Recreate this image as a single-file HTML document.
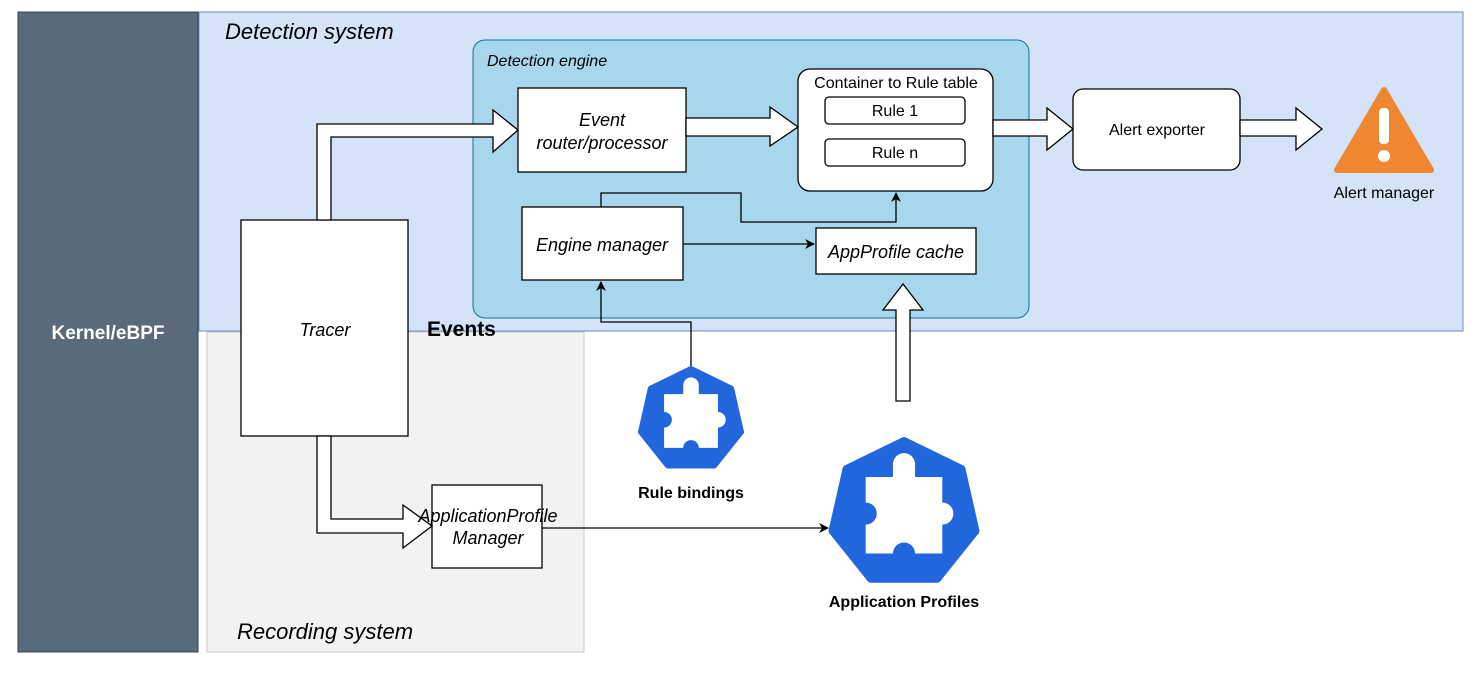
<!DOCTYPE html>
<html><head><style>body{margin:0;background:#fff}svg{display:block}text{font-family:"Liberation Sans",sans-serif}</style></head><body>
<svg width="1478" height="686" viewBox="0 0 1478 686" xmlns="http://www.w3.org/2000/svg">
<defs>
<marker id="a" markerWidth="10" markerHeight="10" refX="9" refY="5" orient="auto" markerUnits="userSpaceOnUse"><path d="M0,0 L10,5 L0,10 L3,5 z" fill="#000"/></marker>
<g id="k8s">
<path d="M0,-0.95 L0.78,-0.57 L0.97,0.27 L0.45,0.92 L-0.45,0.92 L-0.97,0.27 L-0.78,-0.57 Z" fill="#2266dd" stroke="#2266dd" stroke-width="0.1" stroke-linejoin="round"/>
<g transform="scale(1.15)">
<path d="M-0.45,-0.4 L-0.13,-0.4 L-0.13,-0.55 A0.13,0.13 0 0 1 0.13,-0.55 L0.13,-0.4 L0.45,-0.4 L0.45,-0.1 A0.13,0.13 0 0 1 0.45,0.16 L0.45,0.5 L0.13,0.5 A0.13,0.13 0 0 0 -0.13,0.5 L-0.45,0.5 L-0.45,0.16 A0.13,0.13 0 0 0 -0.45,-0.1 Z" fill="#fff"/>
</g>
</g>
</defs>
<rect x="18" y="12" width="180" height="640" fill="#596a7b" stroke="#314354"/>
<text x="108" y="339" font-size="19" font-weight="bold" fill="#fff" text-anchor="middle">Kernel/eBPF</text>
<rect x="199" y="12" width="1264" height="319" fill="#d4e3f8" stroke="#6c8ebf"/>
<text x="225" y="39" font-size="22" font-style="italic">Detection system</text>
<rect x="207" y="332" width="377" height="320" fill="#f2f2f2" stroke="#c8c8c8"/>
<text x="237" y="639" font-size="22" font-style="italic">Recording system</text>
<rect x="473" y="40" width="556" height="278" rx="12" fill="#a8d6ec" stroke="#10739e"/>
<text x="487" y="66" font-size="16" font-style="italic">Detection engine</text>
<g stroke="#000" stroke-width="1.3" fill="#fff">
<rect x="241" y="220" width="167" height="216"/>
<rect x="518" y="88" width="168" height="84"/>
<rect x="798" y="69" width="195" height="122" rx="12"/>
<rect x="825" y="97" width="140" height="27" rx="4"/>
<rect x="825" y="139" width="140" height="27" rx="4"/>
<rect x="1073" y="89" width="167" height="81" rx="10"/>
<rect x="522" y="207" width="161" height="73"/>
<rect x="816" y="228" width="160" height="46"/>
<rect x="432" y="485" width="110" height="83"/>
<path d="M317,220 L317,124 L493,124 L493,110 L518,130 L493,152 L493,137 L331,137 L331,220 Z"/>
<path d="M686,118 L770,118 L770,107 L798,127 L770,146 L770,136 L686,136 Z"/>
<path d="M993,120 L1047,120 L1047,108 L1073,129 L1047,150 L1047,136 L993,136 Z"/>
<path d="M1240,120 L1296,120 L1296,108 L1322,129 L1296,150 L1296,136 L1240,136 Z"/>
<path d="M317,436 L317,533 L403,533 L403,548 L432,526 L403,505 L403,519 L331,519 L331,436 Z"/>
<path d="M896,401 L896,310 L883,310 L903,284 L923,310 L910,310 L910,401 Z"/>
</g>
<g stroke="#000" stroke-width="1.3" fill="none">
<path d="M601,207 L601,193 L741,193 L741,222 L896,222 L896,193" marker-end="url(#a)"/>
<path d="M683,244 L814,244" marker-end="url(#a)"/>
<path d="M691,366 L691,322 L601,322 L601,282" marker-end="url(#a)"/>
<path d="M542,528 L828,528" marker-end="url(#a)"/>
</g>
<g font-size="18" text-anchor="middle" font-style="italic">
<text x="325" y="336">Tracer</text>
<text x="602" y="126">Event</text><text x="602" y="149">router/processor</text>
<text x="602" y="251">Engine manager</text>
<text x="896" y="258">AppProfile cache</text>
<text x="488" y="522">ApplicationProfile</text><text x="488" y="544">Manager</text>
</g>
<g font-size="16" text-anchor="middle">
<text x="896" y="88">Container to Rule table</text>
<text x="895" y="116">Rule 1</text>
<text x="895" y="158">Rule n</text>
<text x="1157" y="135">Alert exporter</text>
<text x="1384" y="198">Alert manager</text>
</g>
<text x="427" y="336" font-size="21" font-weight="bold">Events</text>
<use href="#k8s" transform="translate(691,418) scale(52)"/>
<use href="#k8s" transform="translate(904,511) scale(74)"/>
<g font-size="16" font-weight="bold" text-anchor="middle">
<text x="691" y="498">Rule bindings</text>
<text x="904" y="607">Application Profiles</text>
</g>
<path d="M1384,90 L1431,170 L1337,170 Z" fill="#ee8730" stroke="#ee8730" stroke-width="6" stroke-linejoin="round"/>
<rect x="1379" y="108" width="10" height="36" rx="4" fill="#fff"/>
<circle cx="1384" cy="156" r="6" fill="#fff"/>
</svg>
</body></html>
